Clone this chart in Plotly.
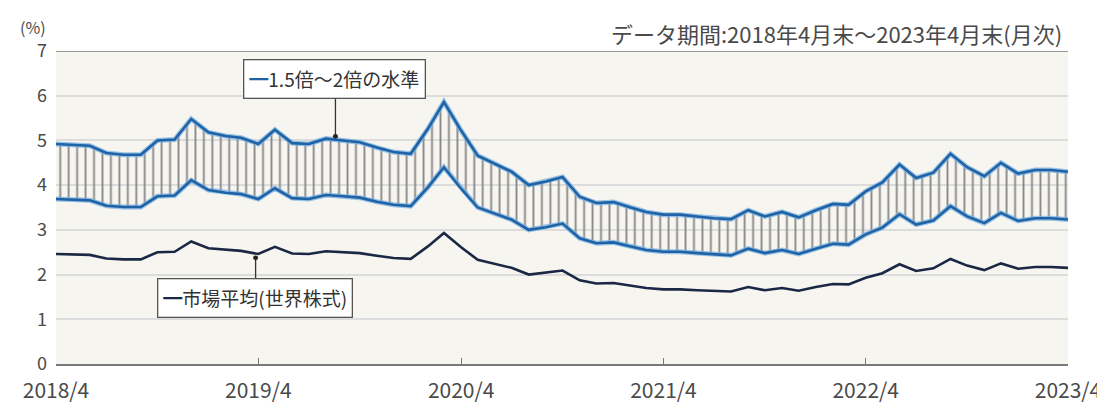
import plotly.graph_objects as go
import pandas as pd

# ---- data (monthly, 2018/4 .. 2023/4) ----
months = pd.date_range("2018-04-01", "2023-04-01", freq="MS")

market = [2.46, 2.45, 2.44, 2.36, 2.34, 2.34, 2.50, 2.51, 2.74, 2.59,
          2.55, 2.53, 2.46, 2.62, 2.47, 2.46, 2.52, 2.50, 2.48, 2.42,
          2.37, 2.35, 2.63, 2.93, 2.61, 2.33, 2.24, 2.15, 2.00, 2.04,
          2.09, 1.87, 1.80, 1.81, 1.75, 1.70, 1.67, 1.67, 1.65, 1.63,
          1.62, 1.72, 1.65, 1.70, 1.64, 1.72, 1.79, 1.78, 1.93, 2.03,
          2.23, 2.08, 2.14, 2.35, 2.20, 2.10, 2.25, 2.13, 2.17, 2.17,
          2.15]

level_15x = [3.69, 3.68, 3.66, 3.54, 3.51, 3.51, 3.75, 3.77, 4.11, 3.89,
             3.83, 3.80, 3.69, 3.93, 3.71, 3.69, 3.78, 3.75, 3.72, 3.63,
             3.56, 3.53, 3.95, 4.40, 3.92, 3.50, 3.36, 3.23, 3.00, 3.06,
             3.14, 2.81, 2.70, 2.72, 2.63, 2.55, 2.51, 2.51, 2.48, 2.45,
             2.43, 2.58, 2.48, 2.55, 2.46, 2.58, 2.69, 2.67, 2.90, 3.05,
             3.35, 3.12, 3.21, 3.53, 3.30, 3.15, 3.38, 3.20, 3.26, 3.26,
             3.23]

level_2x = [4.92, 4.90, 4.88, 4.72, 4.68, 4.68, 5.00, 5.02, 5.48, 5.18,
            5.10, 5.06, 4.92, 5.24, 4.94, 4.92, 5.04, 5.00, 4.96, 4.84,
            4.74, 4.70, 5.26, 5.86, 5.22, 4.66, 4.48, 4.30, 4.00, 4.08,
            4.18, 3.74, 3.60, 3.62, 3.50, 3.40, 3.34, 3.34, 3.30, 3.26,
            3.24, 3.44, 3.30, 3.40, 3.28, 3.44, 3.58, 3.56, 3.86, 4.06,
            4.46, 4.16, 4.28, 4.70, 4.40, 4.20, 4.50, 4.26, 4.34, 4.34,
            4.30]

x_tick_vals = ["2018-04-01", "2019-04-01", "2020-04-01",
               "2021-04-01", "2022-04-01", "2023-04-01"]
x_tick_text = ["2018/4", "2019/4", "2020/4", "2021/4", "2022/4", "2023/4"]
y_tick_vals = [0, 1, 2, 3, 4, 5, 6, 7]

FONT = "Noto Sans CJK JP"
BLUE = "#2062a6"
HALO = "rgba(120,178,228,0.75)"
NAVY = "#1a2745"
TXT = "#4a4a4a"

fig = go.Figure()

# band with vertical hatching
fig.add_trace(go.Scatter(x=months, y=level_15x, mode="lines",
                         line=dict(width=0, color=BLUE),
                         showlegend=False, hoverinfo="skip"))
fig.add_trace(go.Scatter(x=months, y=level_2x, mode="lines",
                         line=dict(width=0, color=BLUE),
                         fill="tonexty", fillcolor="rgba(0,0,0,0)",
                         fillpattern=dict(shape="|", size=8.45, solidity=0.22,
                                          fgcolor="#888888", fgopacity=1,
                                          bgcolor="rgba(0,0,0,0)"),
                         showlegend=False, hoverinfo="skip"))

# blue lines (halo + core)
for series in (level_15x, level_2x):
    fig.add_trace(go.Scatter(x=months, y=series, mode="lines",
                             line=dict(width=5, color=HALO),
                             showlegend=False, hoverinfo="skip"))
for series in (level_15x, level_2x):
    fig.add_trace(go.Scatter(x=months, y=series, mode="lines",
                             line=dict(width=2.6, color=BLUE),
                             showlegend=False))

# market average
fig.add_trace(go.Scatter(x=months, y=market, mode="lines",
                         line=dict(width=2.6, color=NAVY),
                         showlegend=False))

# plot-area geometry (pixels) used to place callouts in paper coords
L, R, T, B = 48, 1062, 43, 373
W, H = R - L, B - T
def px(xp):
    return (xp - L) / W
def py(yp):
    return (B - yp) / H

shapes = [
    # darker top frame line at 7
    dict(type="line", xref="paper", yref="y", x0=0, x1=1, y0=7, y1=7,
         line=dict(color="#7a7a7a", width=1.5), layer="above"),
    # leader lines
    dict(type="line", xref="paper", yref="paper",
         x0=px(328), x1=px(328), y0=py(88), y1=py(133),
         line=dict(color="#333", width=1.3)),
    dict(type="line", xref="paper", yref="paper",
         x0=px(248), x1=px(248), y0=py(287), y1=py(261),
         line=dict(color="#333", width=1.3)),
    # dots
    dict(type="circle", xref="paper", yref="paper",
         x0=px(325.5), x1=px(330.5), y0=py(130.5), y1=py(135.5),
         fillcolor="#222", line=dict(width=0)),
    dict(type="circle", xref="paper", yref="paper",
         x0=px(245.5), x1=px(250.5), y0=py(258.5), y1=py(263.5),
         fillcolor="#222", line=dict(width=0)),
]

annotations = [
    dict(xref="paper", yref="paper", x=px(327.5), y=py(72),
         xanchor="center", yanchor="middle", showarrow=False,
         text=f'<span style="color:{BLUE}">━</span>1.5倍～2倍の水準',
         font=dict(family=FONT, size=19, color="#333"),
         bgcolor="white", bordercolor="#555", borderwidth=1.3, borderpad=5),
    dict(xref="paper", yref="paper", x=px(247.5), y=py(303.5),
         xanchor="center", yanchor="middle", showarrow=False,
         text=f'<span style="color:{NAVY}">━</span>市場平均(世界株式)',
         font=dict(family=FONT, size=19, color="#333"),
         bgcolor="white", bordercolor="#555", borderwidth=1.3, borderpad=5),
    dict(xref="paper", yref="paper", x=(1058 - L) / W, y=py(24),
         xanchor="right", yanchor="middle", showarrow=False,
         text="データ期間:2018年4月末～2023年4月末(月次)",
         font=dict(family=FONT, size=22, color=TXT)),
    dict(xref="paper", yref="paper", x=px(24.5), y=py(18),
         xanchor="center", yanchor="middle", showarrow=False,
         text="(%)", font=dict(family=FONT, size=16, color=TXT)),
]

fig.update_layout(
    width=1105, height=408,
    margin=dict(l=L, r=1105 - R, t=T, b=408 - B),
    paper_bgcolor="white", plot_bgcolor="#f7f5ef",
    font=dict(family=FONT, color=TXT),
    shapes=shapes, annotations=annotations,
    showlegend=False,
)
fig.update_xaxes(
    type="date", range=[x_tick_vals[0], x_tick_vals[-1]],
    tickvals=x_tick_vals, ticktext=x_tick_text,
    tickfont=dict(family=FONT, size=21, color=TXT),
    ticks="inside", ticklen=6, tickwidth=1.3, tickcolor="#777",
    ticklabelstandoff=7,
    showgrid=False, showline=True, linecolor="#7a7a7a", linewidth=1.5,
    zeroline=False,
)
fig.update_yaxes(
    range=[0, 7], tickvals=y_tick_vals,
    tickfont=dict(family=FONT, size=18, color=TXT),
    showgrid=True, gridcolor="#dcdcdc", gridwidth=1.5,
    zeroline=False, showline=False, ticks="", ticklabelstandoff=8,
)

fig.write_html("out.html")
